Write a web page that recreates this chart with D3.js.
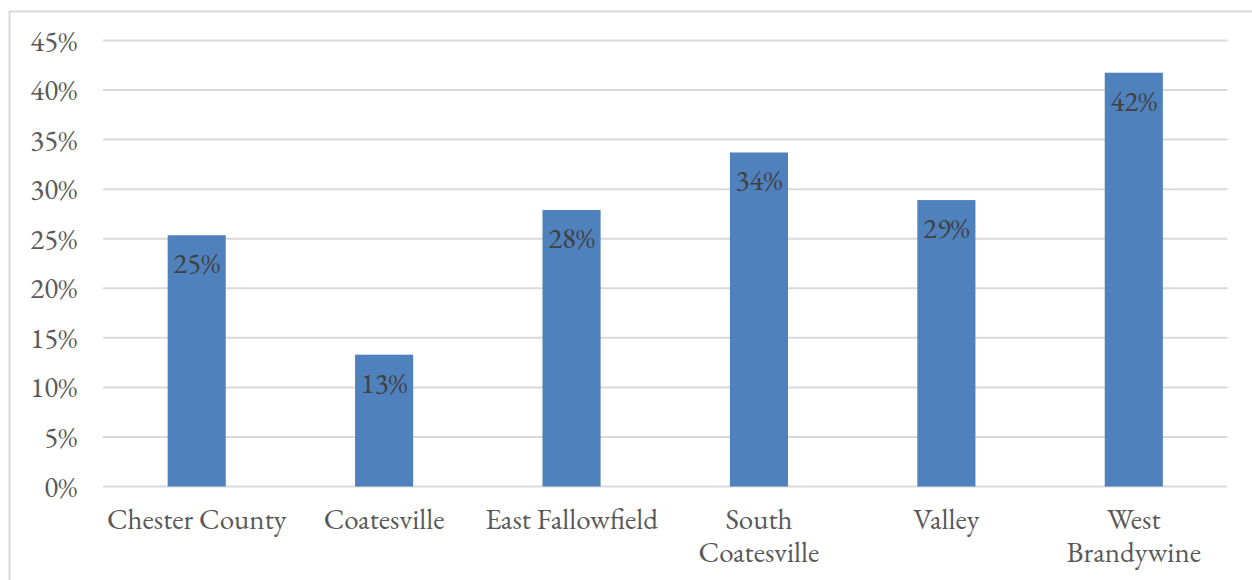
<!DOCTYPE html>
<html>
<head>
<meta charset="utf-8">
<script src="https://cdn.jsdelivr.net/npm/d3@7"></script>
<style>
  html, body { margin: 0; padding: 0; background: #fff; }
  svg { display: block; }
</style>
</head>
<body>
<svg id="chart" width="1252" height="580"></svg>
<script>
const categories = ["Chester County", "Coatesville", "East Fallowfield", "South Coatesville", "Valley", "West Brandywine"];
const values = [0.2535, 0.133, 0.279, 0.337, 0.289, 0.4175];
const yTicks = [0, 0.05, 0.10, 0.15, 0.20, 0.25, 0.30, 0.35, 0.40, 0.45];

const FONT = "'EB Garamond', Garamond, 'Liberation Serif', serif";
const W = 1252, H = 580;
const plot = { left: 103, right: 1227.5, top: 40.5, bottom: 486.5 };
const svg = d3.select("#chart");

function styleText(sel, color, size) {
  sel.style("font-family", FONT)
     .style("font-size", size + "px")
     .style("font-feature-settings", "'lnum' 1")
     .style("font-variant-numeric", "lining-nums")
     .attr("fill", color);
}

svg.append("rect")
  .attr("x", 9.5).attr("y", 11.5)
  .attr("width", W).attr("height", H)
  .attr("fill", "#fff")
  .attr("stroke", "#d9d9d9").attr("stroke-width", 2);

const x = d3.scaleBand().domain(categories).range([plot.left, plot.right]).paddingInner(0.69).paddingOuter(0.345);
const y = d3.scaleLinear().domain([0, 0.45]).range([plot.bottom, plot.top]);
const fmt = d3.format(".0%");

// gridlines
svg.append("g").selectAll("line").data(yTicks).join("line")
  .attr("x1", plot.left).attr("x2", plot.right)
  .attr("y1", d => y(d)).attr("y2", d => y(d))
  .attr("stroke", "#d9d9d9").attr("stroke-width", 2);

// y axis labels
const yAxis = d3.axisLeft(y).tickValues(yTicks).tickFormat(fmt).tickSize(0).tickPadding(26);
const gy = svg.append("g").attr("transform", `translate(${plot.left},0)`).call(yAxis);
gy.select(".domain").remove();
gy.selectAll("text").call(styleText, "#595959", 29).attr("dy", null).attr("y", 9.5);

// bars
svg.append("g").selectAll("rect").data(categories).join("rect")
  .attr("x", d => x(d))
  .attr("width", x.bandwidth())
  .attr("y", (d, i) => y(values[i]))
  .attr("height", (d, i) => y(0) - y(values[i]))
  .attr("fill", "#4f81bd");

// data labels
svg.append("g").selectAll("text").data(categories).join("text")
  .attr("x", d => x(d) + x.bandwidth() / 2)
  .attr("y", (d, i) => y(values[i]) + 38)
  .attr("text-anchor", "middle")
  .call(styleText, "#404040", 29)
  .text((d, i) => fmt(values[i]));

// x axis labels (wrapped)
const xAxis = d3.axisBottom(x).tickSize(0).tickPadding(0);
const gx = svg.append("g").attr("transform", `translate(0,${plot.bottom})`).call(xAxis);
gx.select(".domain").remove();
gx.selectAll("text")
  .call(styleText, "#595959", 29)
  .attr("dy", null)
  .attr("y", 0)
  .each(function(d) {
    const t = d3.select(this);
    t.text(null);
    const words = d.split(" ");
    const probe = t.append("tspan").text(d);
    const fullW = probe.node().getComputedTextLength();
    probe.remove();
    let lines = [d];
    if (fullW > 185 && words.length > 1) {
      lines = [words.slice(0, words.length - 1).join(" "), words[words.length - 1]];
    }
    lines.forEach((ln, k) => {
      t.append("tspan").attr("x", 0).attr("y", 42.5 + k * 33).text(ln);
    });
  });
</script>
</body>
</html>
